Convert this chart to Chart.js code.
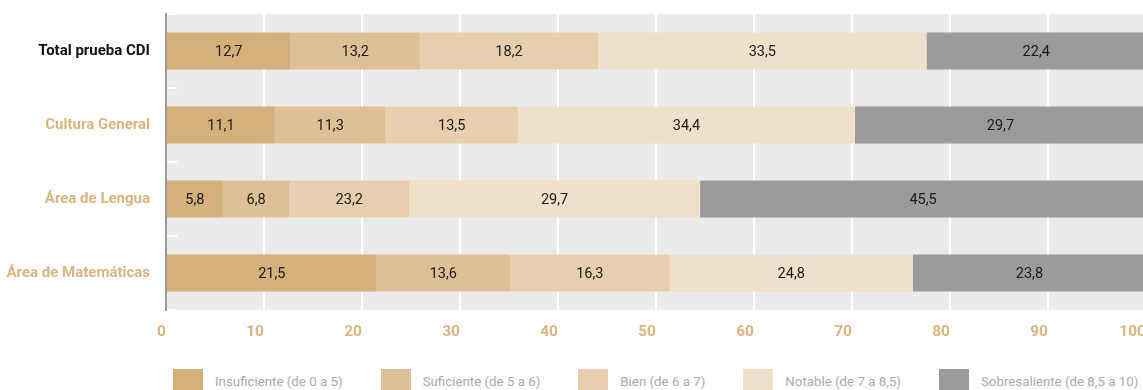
<!DOCTYPE html>
<html>
<head>
<meta charset="utf-8">
<script src="https://cdn.jsdelivr.net/npm/chart.js@4/dist/chart.umd.min.js"></script>
<style>
  body { margin: 0; overflow: hidden; background: #fff; width: 1143px; height: 390px; position: relative; }
  #wrap { position: absolute; left: 0; top: 0; width: 1146px; height: 352px; }
  #legend { position: absolute; left: 173px; top: 369px; display: flex; white-space: nowrap;
            font-family: Roboto, sans-serif; font-size: 13.3px; color: #a9a9a9; }
  #legend .item { display: flex; align-items: center; margin-right: 38px; }
  #legend .box { width: 30px; height: 24px; margin-right: 12px; }
</style>
</head>
<body>
<div id="wrap"><canvas id="barChart"></canvas></div>
<div id="legend"></div>
<script>
var categories = ["Total prueba CDI", "Cultura General", "Área de Lengua", "Área de Matemáticas"];

var seriesNames = ["Insuficiente (de 0 a 5)", "Suficiente (de 5 a 6)", "Bien (de 6 a 7)", "Notable (de 7 a 8,5)", "Sobresaliente (de 8,5 a 10)"];

// bar lengths as drawn
var insuficiente = [12.7, 11.1, 5.8, 21.5];
var suficiente = [13.2, 11.3, 6.8, 13.6];
var bien = [18.2, 13.5, 12.2, 16.3];
var notable = [33.5, 34.4, 29.7, 24.8];
var sobresaliente = [22.4, 29.7, 45.5, 23.8];

// numbers printed on the bars (the "Bien" label of Lengua says 23,2 in the original)
var insuficienteLabels = ["12,7", "11,1", "5,8", "21,5"];
var suficienteLabels = ["13,2", "11,3", "6,8", "13,6"];
var bienLabels = ["18,2", "13,5", "23,2", "16,3"];
var notableLabels = ["33,5", "34,4", "29,7", "24,8"];
var sobresalienteLabels = ["22,4", "29,7", "45,5", "23,8"];

var xTicks = [0, 10, 20, 30, 40, 50, 60, 70, 80, 90, 100];

var colors = ['#d4b07b', '#dec096', '#e7cfad', '#efe0c9', '#9b9b9b'];
var tan = '#d9b47f';
var font = "Roboto, sans-serif";

var seriesData = [insuficiente, suficiente, bien, notable, sobresaliente];
var seriesLabels = [insuficienteLabels, suficienteLabels, bienLabels, notableLabels, sobresalienteLabels];

var datasets = seriesNames.map(function (name, i) {
    return {
        label: name,
        data: seriesData[i],
        shownLabels: seriesLabels[i],
        backgroundColor: colors[i],
        borderWidth: 0,
        barPercentage: 0.5,
        categoryPercentage: 1
    };
});

// gray plot background
var plotBackground = {
    id: 'plotBackground',
    beforeDraw: function (chart) {
        var a = chart.chartArea;
        var ctx = chart.ctx;
        ctx.save();
        ctx.fillStyle = '#ebebeb';
        ctx.fillRect(a.left, a.top, a.right - a.left, a.bottom - a.top);
        ctx.restore();
    }
};

// value text in the middle of each segment
var barLabels = {
    id: 'barLabels',
    afterDatasetsDraw: function (chart) {
        var ctx = chart.ctx;
        ctx.save();
        ctx.font = '14.5px ' + font;
        ctx.fillStyle = '#1a1a1a';
        ctx.textAlign = 'center';
        ctx.textBaseline = 'middle';
        chart.data.datasets.forEach(function (ds, i) {
            var meta = chart.getDatasetMeta(i);
            meta.data.forEach(function (bar, j) {
                ctx.fillText(ds.shownLabels[j], (bar.x + bar.base) / 2, bar.y + 1);
            });
        });
        ctx.restore();
    }
};

var ctx = document.getElementById('barChart').getContext('2d');
var chart = new Chart(ctx, {
    type: 'bar',
    data: { labels: categories, datasets: datasets },
    plugins: [plotBackground, barLabels],
    options: {
        indexAxis: 'y',
        responsive: true,
        maintainAspectRatio: false,
        animation: false,
        layout: { padding: { top: 14, right: 0, left: 0, bottom: 0 } },
        scales: {
            x: {
                stacked: true,
                min: 0,
                max: 100,
                afterBuildTicks: function (scale) {
                    scale.ticks = xTicks.map(function (v) { return { value: v }; });
                },
                afterFit: function (scale) {
                    scale.height = 42;
                    scale.paddingLeft = 0;
                    scale.paddingRight = 0;
                },
                grid: { color: '#ffffff', lineWidth: 2, drawTicks: false },
                border: { display: false },
                ticks: {
                    color: tan,
                    padding: 13,
                    align: 'end',
                    maxRotation: 0,
                    font: { family: font, size: 15.5, weight: 'bold' }
                }
            },
            y: {
                stacked: true,
                afterFit: function (scale) {
                    scale.width = 166;
                    scale.paddingTop = 0;
                    scale.paddingBottom = 0;
                },
                grid: {
                    offset: true,
                    drawOnChartArea: false,
                    drawTicks: true,
                    tickLength: -11,   // short white marks inside the plot
                    color: '#ffffff',
                    lineWidth: 2
                },
                border: { display: true, color: '#9a9a9a', width: 2 },
                ticks: {
                    padding: 27,
                    color: function (c) { return c.index === 0 ? '#111111' : tan; },
                    font: { family: font, size: 15, weight: 'bold' }
                }
            }
        },
        plugins: {
            legend: { display: false },
            tooltip: { enabled: false }
        }
    }
});

// legend under the chart
var legendEl = document.getElementById('legend');
seriesNames.forEach(function (name, i) {
    var item = document.createElement('div');
    item.className = 'item';
    var box = document.createElement('span');
    box.className = 'box';
    box.style.background = colors[i];
    var txt = document.createElement('span');
    txt.textContent = name;
    item.appendChild(box);
    item.appendChild(txt);
    legendEl.appendChild(item);
});
</script>
</body>
</html>
